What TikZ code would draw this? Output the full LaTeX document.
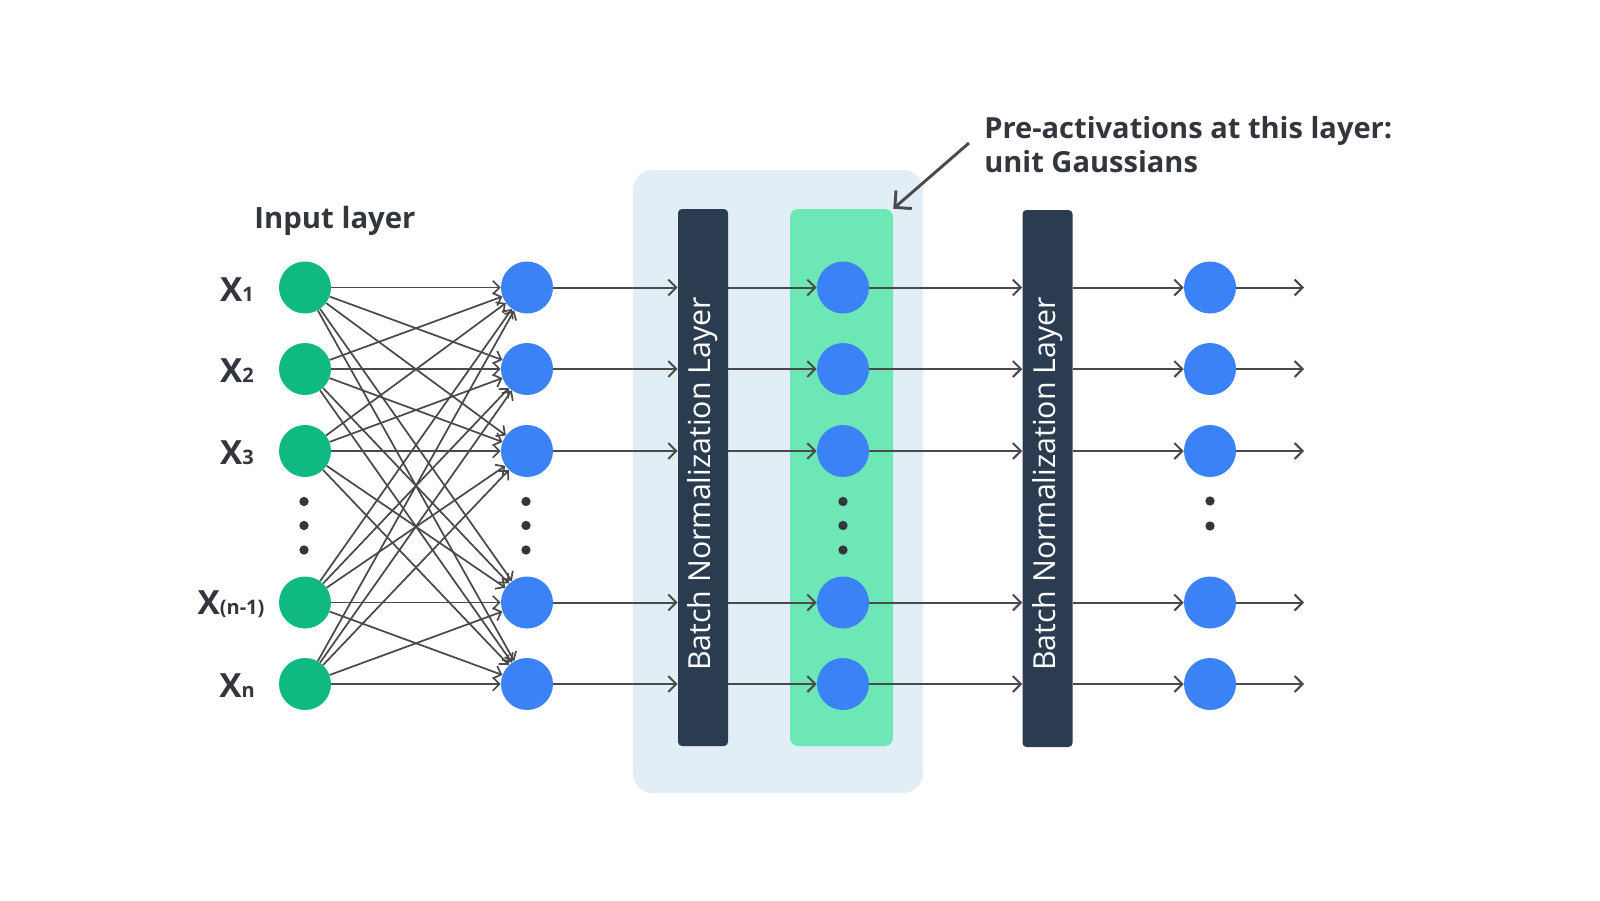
\documentclass[tikz,border=0pt]{standalone}
\usepackage{fontspec}
\setmainfont{Open Sans}
\usetikzlibrary{arrows.meta}
\definecolor{gnode}{HTML}{10B981}
\definecolor{bnode}{HTML}{3B82F6}
\definecolor{bgblue}{HTML}{E1EEF5}
\definecolor{bnbar}{HTML}{2B3C50}
\definecolor{lgreen}{HTML}{6EE7B7}
\definecolor{linec}{HTML}{4A4A4A}
\definecolor{txt}{HTML}{33363D}
\newcommand\xlabtxt[1]{X{\fontsize{15}{17}\selectfont #1}}
\begin{document}
\begin{tikzpicture}[x=0.75pt,y=-0.75pt,
  gn/.style={circle,fill=gnode,minimum size=39pt,inner sep=0pt},
  bn/.style={circle,fill=bnode,minimum size=39pt,inner sep=0pt},
  dotn/.style={circle,fill=txt,minimum size=7pt,inner sep=0pt},
  fan/.style={draw=linec,line width=1.3pt,-{Straight Barb[length=5pt,width=10pt]}},
  conn/.style={draw=linec,line width=1.5pt,-{Straight Barb[length=6pt,width=12pt]}},
  bnbox/.style={fill=bnbar,rounded corners=3pt,minimum width=37.5pt,minimum height=402.75pt,inner sep=0pt},
  bntext/.style={text=white,font=\fontsize{22.75}{26}\selectfont,rotate=90},
  xlab/.style={text=txt,font=\fontsize{25}{29}\selectfont\bfseries},
  ttl/.style={text=txt,font=\fontsize{22}{26}\selectfont\bfseries}
]
\fill[white] (0,0) rectangle (1600,900);
\useasboundingbox (0,0) rectangle (1600,900);

% background panel
\fill[bgblue,rounded corners=15pt] (633,170) rectangle (923,793);
\node[fill=lgreen,rounded corners=6pt,minimum width=77.25pt,minimum height=402.75pt,inner sep=0pt] (lg) at (841.5,477.5) {};
\node[bnbox] (bn1) at (703,477.5) {};
\node[bnbox] (bn2) at (1047.5,478.5) {};
\node[bntext] (bt1) at (703,484) {Batch Normalization Layer};
\node[bntext] (bt2) at (1047.5,484) {Batch Normalization Layer};

% rows
\def\rows{1/287.5,2/369,3/451,4/602.5,5/684}
\foreach \i/\y in \rows {
  \node[gn] (g\i) at (305,\y) {};
  \node[bn] (b\i) at (527,\y) {};
  \node[bn] (m\i) at (843,\y) {};
  \node[bn] (o\i) at (1210,\y) {};
  \coordinate (e\i) at (1304,\y);
}

% dots
\foreach \y [count=\k] in {501.5,525.5,550} {
  \node[dotn] (dg\k) at (304,\y) {};
  \node[dotn] (db\k) at (526,\y) {};
  \node[dotn] (dm\k) at (843,\y) {};
}
\node[dotn] (do1) at (1210,501) {};
\node[dotn] (do2) at (1210,526) {};

% labels
\node[ttl] (inl) at (335,221) {Input layer};
\node[xlab] (x1) at (237,290) {\xlabtxt{1}};
\node[xlab] (x2) at (237,371) {\xlabtxt{2}};
\node[xlab] (x3) at (237,453) {\xlabtxt{3}};
\node[xlab] (x4) at (231,604) {\xlabtxt{(n-1)}};
\node[xlab] (x5) at (237,686) {\xlabtxt{n}};

% fan connections
\foreach \i in {1,...,5} {
  \foreach \j in {1,...,5} {
    \draw[fan] (g\i) -- (b\j);
  }
}

% straight connections
\foreach \i in {1,...,5} {
  \draw[conn] (b\i) -- (bn1.west |- b\i);
  \draw[conn] (bn1.east |- b\i) -- (m\i);
  \draw[conn] (m\i) -- (bn2.west |- m\i);
  \draw[conn] (bn2.east |- m\i) -- (o\i);
  \draw[conn] (o\i) -- (e\i);
}

% annotation
\node[text=txt,font=\fontsize{21.8}{25.5}\selectfont\bfseries,align=left,anchor=west,inner sep=0pt] (ann) at (984,145) {Pre-activations at this layer:\\unit Gaussians};
\coordinate (as) at (969,143);
\draw[draw=linec,line width=2.2pt,-{Straight Barb[length=9pt,width=18pt]}] (as) -- (lg.north east);
\end{tikzpicture}
\end{document}
